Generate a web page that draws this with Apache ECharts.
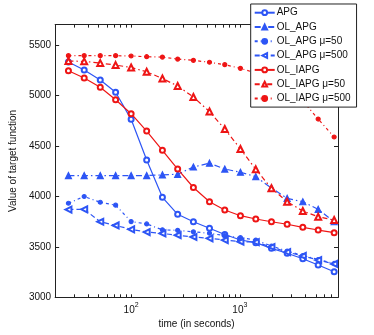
<!DOCTYPE html>
<html><head><meta charset="utf-8">
<script src="https://cdn.jsdelivr.net/npm/echarts@6/dist/echarts.min.js"></script>
<style>html,body{margin:0;padding:0;background:#fff}#c{width:374px;height:335px}</style>
</head><body><div id="c"></div>
<script>
const times = [26.5, 37, 52, 72, 100, 139, 194, 268, 374, 526, 727, 1013, 1402, 1954, 2724, 3796, 5257, 7373];
const apg = [5329, 5250, 5151, 5030, 4762, 4359, 3990, 3822, 3748, 3683, 3622, 3567, 3541, 3485, 3436, 3382, 3320, 3253];
const olApg = [4205, 4205, 4205, 4205, 4205, 4205, 4212, 4218, 4290, 4328, 4270, 4238, 4194, 4082, 3980, 3946, 3871, 3748];
const olApg50 = [3931, 3998, 3941, 3912, 3750, 3726, 3668, 3663, 3648, 3634, 3610, 3590, 3567, 3508, 3458, 3414, 3374, 3335];
const olApg500 = [3869, 3871, 3748, 3711, 3673, 3646, 3632, 3615, 3597, 3584, 3567, 3550, 3547, 3498, 3448, 3409, 3369, 3330];
const olIapg = [5243, 5171, 5079, 4956, 4818, 4646, 4455, 4270, 4087, 3946, 3864, 3808, 3775, 3748, 3723, 3693, 3666, 3640];
const olIapg50 = [5339, 5336, 5319, 5299, 5275, 5233, 5166, 5092, 4983, 4839, 4666, 4468, 4267, 4079, 3946, 3854, 3798, 3765];
const olIapg500 = [5392, 5392, 5392, 5392, 5389, 5382, 5378, 5359, 5346, 5327, 5303, 5267, 5221, 5161, 5072, 4944, 4765, 4587];
const seriesNames = ['APG', 'OL_APG', 'OL_APG \u03bc=50', 'OL_APG \u03bc=500', 'OL_IAPG', 'OL_IAPG \u03bc=50', 'OL_IAPG \u03bc=500'];
const xMajorTicks = [100, 1000];
const xMinorTicks = [20, 30, 40, 50, 60, 70, 80, 90, 100, 200, 300, 400, 500, 600, 700, 800, 900, 1000, 2000, 3000, 4000, 5000, 6000, 7000, 8000];
const yTicks = [3000, 3500, 4000, 4500, 5000, 5500];

const BLUE = '#2d55f5';
const RED = '#ee1515';
const FONT = 'Liberation Sans, Arial, sans-serif';

function pairs(arr) { return times.map((t, i) => [t, arr[i]]); }

const styles = [
  { data: apg, color: BLUE, type: 'solid', symbol: 'emptyCircle', size: 5, rot: 0 },
  { data: olApg, color: BLUE, type: [6, 3, 1.5, 3], symbol: 'triangle', size: 6, rot: 0 },
  { data: olApg50, color: BLUE, type: [3, 3, 1, 3], symbol: 'circle', size: 4, rot: 0 },
  { data: olApg500, color: BLUE, type: [5, 3], symbol: 'emptyTriangle', size: 6, rot: 90 },
  { data: olIapg, color: RED, type: 'solid', symbol: 'emptyCircle', size: 5, rot: 0 },
  { data: olIapg50, color: RED, type: [5, 3, 1.5, 3], symbol: 'emptyTriangle', size: 6, rot: 0 },
  { data: olIapg500, color: RED, type: [3, 3, 1, 3], symbol: 'circle', size: 4, rot: 0 }
];

const series = styles.map((s, i) => ({
  name: seriesNames[i],
  type: 'line',
  xAxisIndex: 0, yAxisIndex: 0,
  data: pairs(s.data),
  symbol: s.symbol,
  symbolSize: s.size,
  symbolRotate: s.rot,
  showAllSymbol: true,
  animation: false,
  lineStyle: { color: s.color, width: 1.2, type: s.type },
  itemStyle: { color: s.color, borderColor: s.color, borderWidth: 1.2 },
  z: 2 + i
}));

const axisCommonX = {
  type: 'log', logBase: 10, min: 20, max: 8000,
  splitLine: { show: false },
  axisLine: { show: true, lineStyle: { color: '#222', width: 1 } },
  axisTick: { show: true, inside: true, length: 3, customValues: xMinorTicks, lineStyle: { color: '#222' } }
};
const axisCommonY = {
  type: 'value', min: 3000, max: 5700,
  splitLine: { show: false },
  axisLine: { show: true, lineStyle: { color: '#222', width: 1 } },
  axisTick: { show: true, inside: true, length: 4, customValues: yTicks, lineStyle: { color: '#222' } }
};

const chart = echarts.init(document.getElementById('c'), null, { renderer: 'canvas' });
chart.setOption({
  animation: false,
  backgroundColor: '#fff',
  textStyle: { fontFamily: FONT },
  grid: { left: 48.5, right: 36, top: 24.6, bottom: 37.7, containLabel: false },
  xAxis: [
    Object.assign({}, axisCommonX, {
      position: 'bottom',
      name: 'time (in seconds)', nameLocation: 'middle', nameGap: 14,
      nameTextStyle: { fontSize: 10, color: '#111', fontFamily: FONT },
      axisLabel: {
        show: true, customValues: xMajorTicks, margin: 4.5, color: '#111',
        formatter: function (v) { return '{b|10}{s|' + Math.round(Math.log10(v)) + '}'; },
        rich: {
          b: { fontSize: 10, lineHeight: 16, fontFamily: FONT, color: '#111' },
          s: { fontSize: 7, lineHeight: 8, verticalAlign: 'top', fontFamily: FONT, color: '#111' }
        }
      }
    }),
    Object.assign({}, axisCommonX, { position: 'top', axisLabel: { show: false } })
  ],
  yAxis: [
    Object.assign({}, axisCommonY, {
      position: 'left',
      name: 'Value of target function', nameLocation: 'middle', nameGap: 29,
      nameTextStyle: { fontSize: 10, color: '#111', fontFamily: FONT },
      axisLabel: { show: true, customValues: yTicks, margin: 4, fontSize: 10, color: '#111', fontFamily: FONT,
        formatter: function (v) { return String(v); } }
    }),
    Object.assign({}, axisCommonY, { position: 'right', axisLabel: { show: false } })
  ],
  legend: {
    orient: 'vertical',
    left: 250.7, top: 4,
    padding: [2.7, 6, 2.6, 3],
    itemWidth: 20, itemHeight: 6, itemGap: 2.3,
    backgroundColor: '#fff',
    borderColor: '#222', borderWidth: 1,
    textStyle: { fontSize: 10, lineHeight: 12, color: '#111', fontFamily: FONT, padding: [0, 0, 0, -3] },
    data: seriesNames,
    z: 20
  },
  series: series
});
</script>
</body></html>
